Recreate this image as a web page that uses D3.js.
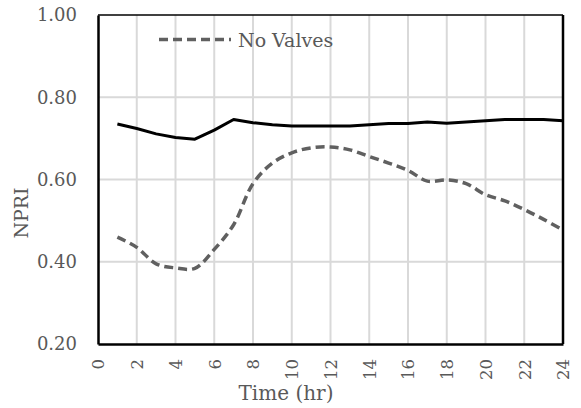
<!DOCTYPE html>
<html><head><meta charset="utf-8">
<script src="https://cdn.jsdelivr.net/npm/d3@7"></script>
<style>body{margin:0;background:#fff}svg{display:block}</style>
</head><body>
<script>
const hours = [1,2,3,4,5,6,7,8,9,10,11,12,13,14,15,16,17,18,19,20,21,22,23,24];
const withValves = [0.735,0.724,0.711,0.702,0.698,0.720,0.746,0.738,0.733,0.730,0.730,0.730,0.730,0.733,0.736,0.736,0.740,0.737,0.740,0.743,0.746,0.746,0.746,0.743];
const noValves = [0.460,0.435,0.395,0.385,0.384,0.430,0.490,0.590,0.640,0.665,0.677,0.679,0.672,0.656,0.640,0.622,0.596,0.599,0.590,0.563,0.548,0.527,0.503,0.477];
const xTicks = [0,2,4,6,8,10,12,14,16,18,20,22,24];
const yTicks = [0.20,0.40,0.60,0.80,1.00];
const legendLabel = "No Valves";
const xTitle = "Time (hr)";
const yTitle = "NPRI";

const W=581,H=408;
const svg=d3.select("body").append("svg").attr("width",W).attr("height",H);
const x=d3.scaleLinear().domain([0,24]).range([98,563]);
const y=d3.scaleLinear().domain([0.2,1.0]).range([344,15]);
const font="'DejaVu Serif', serif";
const grey="#595959";

// gridlines
svg.append("g").selectAll("line").data(xTicks.slice(1,-1)).join("line")
 .attr("x1",d=>x(d)).attr("x2",d=>x(d)).attr("y1",y(1)).attr("y2",y(0.2))
 .attr("stroke","#d9d9d9").attr("stroke-width",2);
svg.append("g").selectAll("line").data(yTicks.slice(1,-1)).join("line")
 .attr("x1",x(0)).attr("x2",x(24)).attr("y1",d=>y(d)).attr("y2",d=>y(d))
 .attr("stroke","#d9d9d9").attr("stroke-width",2);

// frame
svg.append("line").attr("x1",x(0)).attr("x2",x(24)).attr("y1",y(1)).attr("y2",y(1)).attr("stroke","#000").attr("stroke-width",1.5);
svg.append("line").attr("x1",x(24)).attr("x2",x(24)).attr("y1",y(1)).attr("y2",y(0.2)).attr("stroke","#000").attr("stroke-width",2.5);

// axes
const yAxis=d3.axisLeft(y).tickValues(yTicks).tickFormat(d3.format(".2f")).tickSize(0).tickPadding(21);
const gy=svg.append("g").attr("transform",`translate(${x(0)},0)`).call(yAxis);
gy.select(".domain").attr("stroke","#000").attr("stroke-width",2.5);
gy.selectAll("text").attr("font-family",font).attr("font-size",18).attr("fill",grey);

const xAxis=d3.axisBottom(x).tickValues(xTicks).tickSize(0);
const gx=svg.append("g").attr("transform",`translate(0,${y(0.2)})`).call(xAxis);
gx.select(".domain").attr("stroke","#000").attr("stroke-width",2.5);
gx.selectAll("text").attr("font-family",font).attr("font-size",16.5).attr("fill",grey)
 .attr("transform","rotate(-90)").attr("text-anchor","end").attr("x",-15).attr("y",0).attr("dy","0.35em");

// lines
const lineLin=d3.line().x((d,i)=>x(hours[i])).y(d=>y(d));
const lineSmooth=d3.line().x((d,i)=>x(hours[i])).y(d=>y(d)).curve(d3.curveCatmullRom.alpha(0.5));
svg.append("path").datum(noValves).attr("d",lineSmooth).attr("fill","none")
 .attr("stroke","#606060").attr("stroke-width",3.5).attr("stroke-dasharray","9,5");
svg.append("path").datum(withValves).attr("d",lineLin).attr("fill","none")
 .attr("stroke","#000").attr("stroke-width",3).attr("stroke-linejoin","round");

// legend
svg.append("line").attr("x1",159).attr("x2",231).attr("y1",39.5).attr("y2",39.5)
 .attr("stroke","#606060").attr("stroke-width",3.5).attr("stroke-dasharray","9,5");
svg.append("text").attr("x",238).attr("y",47).text(legendLabel)
 .attr("font-family",font).attr("font-size",19).attr("fill",grey);

// titles
svg.append("text").attr("x",286).attr("y",400).attr("text-anchor","middle").text(xTitle)
 .attr("font-family",font).attr("font-size",20).attr("fill",grey);
svg.append("text").attr("transform","translate(28,213) rotate(-90)").attr("text-anchor","middle").text(yTitle)
 .attr("font-family",font).attr("font-size",19).attr("fill",grey);
</script>
</body></html>
